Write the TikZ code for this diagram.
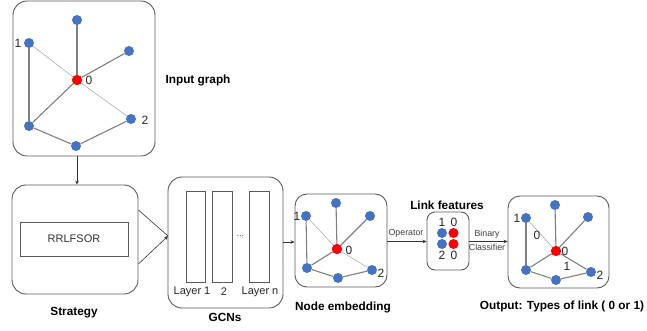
\documentclass[tikz,border=0pt]{standalone}
\usepackage{fontspec}
\setmainfont{Liberation Sans}
\usetikzlibrary{arrows.meta}
\definecolor{nblue}{HTML}{4472C4}
\definecolor{nred}{HTML}{FF0000}
\definecolor{edgec}{HTML}{7F7F7F}
\definecolor{boxc}{HTML}{5A5A5A}
\begin{document}
\begin{tikzpicture}[x=1pt,y=-1pt,
 bn/.style={circle,fill=nblue,inner sep=0,minimum size=10pt},
 rn/.style={circle,fill=nred,inner sep=0,minimum size=10pt},
 ed/.style={draw=edgec,line width=1.1pt},
 weak/.style={draw=edgec!70,line width=0.5pt},
 panel/.style={draw=boxc,line width=0.9pt,rounded corners=14pt,inner sep=0},
 spanel/.style={draw=boxc,line width=0.9pt,rounded corners=9pt,inner sep=0},
 plainbox/.style={draw=boxc,line width=0.8pt,inner sep=0},
 lab/.style={font=\fontsize{12}{13}\selectfont,inner sep=0,text=black!85},
 llab/.style={font=\fontsize{11}{12}\selectfont,inner sep=0,text=black!85},
 ttl/.style={font=\bfseries\fontsize{11.8}{13}\selectfont,inner sep=0},
 small/.style={font=\fontsize{8.8}{10}\selectfont,inner sep=0,text=black!75},
 arr/.style={draw=black!80,line width=0.6pt,-{Stealth[length=4pt,width=3.5pt]}}]
\useasboundingbox (0,0) rectangle (647,331);

% ---------- Input graph ----------
\node[panel,minimum width=142pt,minimum height=155pt] (inbox) at (84,78.5) {};
\node[bn] (iT) at (77,20) {};
\node[bn] (i1) at (29,43) {};
\node[bn] (iR) at (129,51) {};
\node[rn] (i0) at (77,80) {};
\node[bn] (i2) at (131,119) {};
\node[bn] (iL) at (29,126) {};
\node[bn] (iB) at (76,146) {};
\draw[ed] (iT) -- (i0);
\draw[ed] (iR) -- (i0);
\draw[ed] (iL) -- (i0);
\draw[weak] (i1) -- (i0);
\draw[weak] (i0) -- (i2);
\draw[ed] (i1) -- (iL);
\draw[ed] (iL) -- (iB);
\draw[ed] (iB) -- (i2);
\node[rn] at (i0) {};
\node[lab] (i1l) at (18,43) {1};
\node[lab] (i0l) at (89,80) {0};
\node[lab] (i2l) at (145,120) {2};
\node[ttl] (intitle) at (198,80) {Input graph};

% ---------- Strategy ----------
\node[panel,minimum width=126pt,minimum height=109pt] (strat) at (75,239.5) {};
\node[plainbox,minimum width=108pt,minimum height=34pt,font=\fontsize{11}{12}\selectfont,text=black!80] (rr) at (74,239) {RRLFSOR};
\node[ttl] (strattitle) at (74,313) {Strategy};
\draw[arr] (inbox.south -| i0) -- (strat.north -| i0);

% ---------- GCNs ----------
\node[panel,minimum width=115pt,minimum height=131pt] (gcn) at (225.5,242.5) {};
\node[plainbox,minimum width=19pt,minimum height=91pt] (ly1) at (195.5,236.5) {};
\node[plainbox,minimum width=20pt,minimum height=91pt] (ly2) at (222,236.5) {};
\node[plainbox,minimum width=20pt,minimum height=91pt] (lyn) at (259,236.5) {};
\node[small] (dots) at (240.5,236) {...};
\node[llab] (l1) at (192,292) {Layer 1};
\node[llab] (l2) at (224,292) {2};
\node[llab] (ln) at (260,292) {Layer n};
\node[ttl] (gcntitle) at (225,317) {GCNs};
\coordinate (cv) at (168,236);
\draw[draw=black!80,line width=0.6pt] (strat.east |- 0,210) -- (cv);
\draw[arr] (strat.east |- 0,264) -- (cv);

% ---------- Node embedding ----------
\node[spanel,minimum width=92pt,minimum height=93pt,rounded corners=12pt] (emb) at (341,240.5) {};
\node[bn] (eT) at (336,203) {};
\node[bn] (e1) at (306,216) {};
\node[bn] (eR) at (370,216) {};
\node[rn] (e0) at (337,249) {};
\node[bn] (eL) at (307,268) {};
\node[bn] (e2) at (372,270) {};
\node[bn] (eB) at (338,278) {};
\draw[ed] (eT) -- (e0);
\draw[ed] (eR) -- (e0);
\draw[ed] (eL) -- (e0);
\draw[weak] (e1) -- (e0);
\draw[weak] (e0) -- (e2);
\draw[ed] (e1) -- (eL);
\draw[ed] (eL) -- (eB);
\draw[ed] (eB) -- (e2);
\node[rn] at (e0) {};
\node[lab] (e1l) at (297,216) {1};
\node[lab] (e0l) at (349,250) {0};
\node[lab] (e2l) at (381,273) {2};
\node[ttl] (embtitle) at (343,307) {Node embedding};
\draw[arr] (gcn.east |- 0,242) -- (emb.west |- 0,242);

% ---------- Link features ----------
\node[spanel,minimum width=42pt,minimum height=58pt,rounded corners=8pt] (lf) at (448,241) {};
\node[lab] (f1) at (442,222) {1};
\node[lab] (f0a) at (454,222) {0};
\node[bn] (fb1) at (442,233) {};
\node[rn] (fr1) at (453.5,233) {};
\node[bn] (fb2) at (442,244) {};
\node[rn] (fr2) at (453.5,244) {};
\node[lab] (f2) at (442,255.5) {2};
\node[lab] (f0b) at (454,255.5) {0};
\node[ttl] (lftitle) at (447,205) {Link features};
\draw[arr] (emb.east |- 0,241.5) -- (lf.west |- 0,241.5);
\node[small] (op) at (406,233.5) {Operator};

% ---------- Output ----------
\node[spanel,minimum width=101pt,minimum height=92pt,rounded corners=12pt] (out) at (558.5,242) {};
\node[bn] (oT) at (555,205) {};
\node[bn] (o1) at (526,218) {};
\node[bn] (oR) at (588,217) {};
\node[rn] (o0) at (556,251) {};
\node[bn] (oL) at (526,270) {};
\node[bn] (o2) at (591,272) {};
\node[bn] (oB) at (556,280) {};
\draw[ed] (oT) -- (o0);
\draw[ed] (oR) -- (o0);
\draw[ed] (oL) -- (o0);
\draw[weak] (o1) -- (o0);
\draw[ed] (o0) -- (o2);
\draw[ed] (o1) -- (oL);
\draw[ed] (oL) -- (oB);
\draw[ed] (oB) -- (o2);
\node[rn] at (o0) {};
\node[lab] (o1l) at (517,218) {1};
\node[lab] (o0l) at (565,251.5) {0};
\node[lab] (o2l) at (600,275) {2};
\node[lab] (oe0) at (537,235) {0};
\node[lab] (oe1) at (567,266) {1};
\node[ttl] (outtitle) at (562,306) {Output: Types of link ( 0 or 1)};
\draw[arr] (lf.east |- 0,241.5) -- (out.west |- 0,241.5);
\node[small] (bin) at (487,234.5) {Binary};
\node[small] (cls) at (487,247) {Classifier};
\end{tikzpicture}
\end{document}
